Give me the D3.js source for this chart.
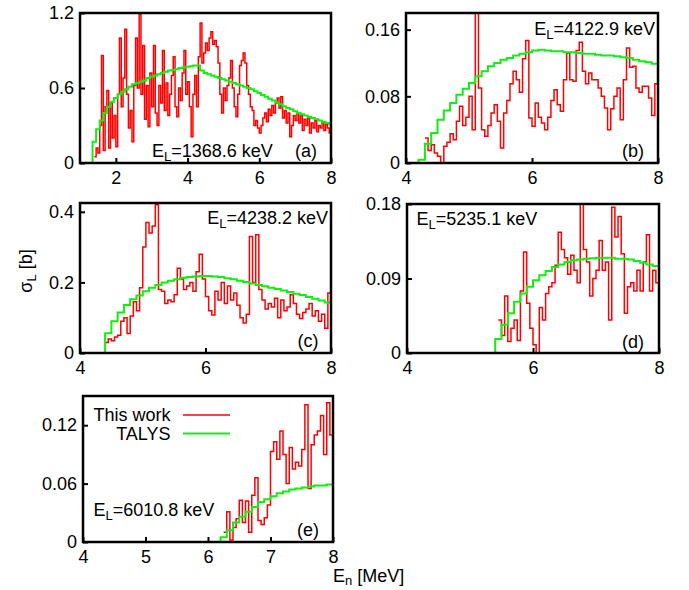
<!DOCTYPE html>
<html>
<head>
<meta charset="utf-8">
<script src="https://cdn.jsdelivr.net/npm/d3@7"></script>
<style>
  body { margin: 0; background: #fff; }
  text { font-family: "Liberation Sans", Arial, Helvetica, sans-serif; font-size: 18px; fill: #000; }
</style>
</head>
<body>
<script>
// Red = this work (0.05 MeV bins), green = TALYS (0.1 MeV bins)
const redBin = 0.05;
const greenBin = 0.1;

// (a) E_L = 1368.6 keV
const redStartA = 1.40;
const redA = [0.05,0.12,0.08,0.30,0.86,0.10,0.45,0.58,0.12,0.48,0.20,0.38,0.13,0.55,1.00,0.45,0.68,1.07,0.55,0.28,
  0.42,0.17,0.62,1.00,0.60,1.19,0.55,0.94,0.35,0.62,0.29,0.72,0.45,0.94,0.40,0.30,0.62,0.48,0.90,0.42,
  0.64,0.38,0.55,0.70,0.85,0.45,0.37,0.60,0.50,0.72,0.90,0.55,0.65,0.45,0.21,0.55,0.70,0.45,0.85,1.12,
  0.80,0.88,0.96,0.90,1.00,1.05,0.95,0.98,0.93,0.80,0.55,0.40,0.60,0.50,0.62,0.68,0.82,0.60,0.45,0.37,
  0.55,0.78,0.82,0.88,0.80,0.62,0.55,0.45,0.42,0.30,0.34,0.28,0.24,0.30,0.36,0.40,0.33,0.43,0.38,0.46,
  0.40,0.48,0.52,0.44,0.53,0.36,0.42,0.32,0.40,0.21,0.30,0.38,0.34,0.40,0.32,0.38,0.26,0.35,0.30,0.36,
  0.24,0.32,0.28,0.34,0.25,0.30,0.28,0.33,0.26,0.31,0.28,0.24];
const greenStartA = 1.35;
const greenA = [0.17,0.27,0.34,0.40,0.45,0.49,0.52,0.55,0.57,0.59,0.61,0.63,0.64,0.65,0.66,0.68,0.69,0.70,0.71,0.72,
  0.73,0.74,0.745,0.75,0.76,0.765,0.77,0.775,0.78,0.78,0.74,0.72,0.71,0.70,0.69,0.68,0.67,0.66,0.65,0.64,
  0.63,0.62,0.61,0.60,0.59,0.575,0.56,0.545,0.53,0.515,0.50,0.485,0.47,0.455,0.44,0.43,0.415,0.40,0.39,0.38,
  0.37,0.36,0.35,0.34,0.33,0.32,0.31];

// (b) E_L = 4122.9 keV
const redStartB = 4.30;
const redB = [0.030,0.015,0.022,0.012,0.008,0.000,0.020,0.025,0.035,0.028,0.050,0.068,0.045,0.055,0.080,0.040,0.180,0.090,0.040,0.032,
  0.045,0.060,0.070,0.050,0.018,0.060,0.075,0.095,0.110,0.100,0.085,0.125,0.147,0.054,0.044,0.072,0.055,0.048,0.040,0.055,
  0.075,0.088,0.070,0.062,0.100,0.132,0.100,0.098,0.135,0.145,0.110,0.095,0.108,0.100,0.100,0.090,0.080,0.066,0.040,0.065,
  0.080,0.090,0.052,0.100,0.138,0.115,0.116,0.090,0.085,0.092,0.092,0.078,0.057,0.095];
const greenStartB = 4.2;
const greenB = [0.004,0.023,0.036,0.052,0.063,0.072,0.082,0.089,0.096,0.104,0.110,0.116,0.120,0.124,0.126,0.129,0.131,0.133,0.135,0.136,
  0.135,0.134,0.134,0.133,0.133,0.132,0.131,0.131,0.130,0.129,0.129,0.128,0.127,0.126,0.124,0.122,0.121,0.119];

// (c) E_L = 4238.2 keV
const redStartC = 4.40;
const redC = [0.030,0.040,0.035,0.045,0.050,0.090,0.100,0.055,0.105,0.145,0.120,0.185,0.300,0.370,0.340,0.360,0.420,0.180,0.175,0.140,
  0.150,0.145,0.165,0.240,0.210,0.180,0.190,0.200,0.175,0.230,0.280,0.210,0.160,0.120,0.108,0.175,0.150,0.200,0.140,0.190,
  0.150,0.170,0.135,0.100,0.085,0.110,0.330,0.200,0.335,0.180,0.150,0.125,0.140,0.130,0.155,0.100,0.150,0.120,0.130,0.165,
  0.140,0.110,0.098,0.115,0.125,0.140,0.105,0.120,0.090,0.110,0.070,0.170];
const greenStartC = 4.4;
const greenC = [0.056,0.090,0.115,0.136,0.152,0.163,0.175,0.185,0.193,0.200,0.205,0.209,0.213,0.215,0.217,0.218,0.218,0.217,0.215,0.212,
  0.209,0.205,0.201,0.197,0.193,0.189,0.185,0.181,0.177,0.173,0.168,0.164,0.159,0.154,0.149,0.143];

// (d) E_L = 5235.1 keV
const redStartD = 5.45;
const redD = [0.040,0.021,0.069,0.014,0.030,0.040,0.015,0.075,0.122,0.060,0.030,0.010,0.000,0.055,0.040,0.072,0.080,0.085,0.106,0.146,
  0.125,0.115,0.095,0.118,0.100,0.085,0.180,0.125,0.110,0.069,0.090,0.100,0.136,0.100,0.110,0.040,0.176,0.140,0.165,0.120,
  0.048,0.080,0.085,0.075,0.100,0.075,0.110,0.143,0.075,0.100,0.085];
const greenStartD = 5.4;
const greenD = [0.017,0.034,0.048,0.062,0.072,0.080,0.088,0.094,0.099,0.104,0.107,0.110,0.112,0.113,0.114,0.1145,0.115,0.115,0.115,0.114,
  0.114,0.113,0.111,0.109,0.107,0.105];

// (e) E_L = 6010.8 keV
const redStartE = 6.25;
const redE = [0.010,0.031,0.002,0.015,0.024,0.043,0.020,0.042,0.010,0.048,0.066,0.022,0.018,0.025,0.038,0.093,0.103,0.085,0.114,0.090,
  0.060,0.097,0.075,0.082,0.078,0.095,0.141,0.055,0.100,0.110,0.114,0.130,0.090,0.143,0.110];
const greenStartE = 6.2;
const greenE = [0.005,0.012,0.020,0.026,0.031,0.036,0.041,0.044,0.047,0.050,0.052,0.054,0.055,0.056,0.057,0.058,0.058,0.059];

const levels = ["1368.6", "4122.9", "4238.2", "5235.1", "6010.8"];
const tags = ["(a)", "(b)", "(c)", "(d)", "(e)"];
const xTicksA = [2, 4, 6, 8];
const xTicksBCD = [4, 6, 8];
const xTicksE = [4, 5, 6, 7, 8];
const yTicksA = [0, 0.6, 1.2];
const yTicksB = [0, 0.08, 0.16];
const yTicksC = [0, 0.2, 0.4];
const yTicksD = [0, 0.09, 0.18];
const yTicksE = [0, 0.06, 0.12];

const W = 689, H = 590;
const svg = d3.select("body").append("svg")
  .attr("width", W).attr("height", H)
  .attr("xmlns", "http://www.w3.org/2000/svg");

// panel boxes [left, top, right, bottom], label placement
const panels = [
  { box: [80, 13, 331, 163], xd: [1, 8], yd: [0, 1.2], xt: xTicksA, yt: yTicksA,
    red: redA, rs: redStartA, green: greenA, gs: greenStartA,
    lab: { x: 152, y: 156.5, a: "start" }, tag: { x: 295, y: 156.5 } },
  { box: [406, 13, 658, 163], xd: [4, 8], yd: [0, 0.18], xt: xTicksBCD, yt: yTicksB,
    red: redB, rs: redStartB, green: greenB, gs: greenStartB,
    lab: { x: 655, y: 35, a: "end" }, tag: { x: 622, y: 156.5 } },
  { box: [80, 203, 331, 353], xd: [4, 8], yd: [0, 0.425], xt: xTicksBCD, yt: yTicksC,
    red: redC, rs: redStartC, green: greenC, gs: greenStartC,
    lab: { x: 328, y: 223.5, a: "end" }, tag: { x: 297.5, y: 346.5 } },
  { box: [407, 204, 659, 353], xd: [4, 8], yd: [0, 0.18], xt: xTicksBCD, yt: yTicksD,
    red: redD, rs: redStartD, green: greenD, gs: greenStartD,
    lab: { x: 416.5, y: 224.5, a: "start" }, tag: { x: 622, y: 348 } },
  { box: [83, 396, 333, 542], xd: [4, 8], yd: [0, 0.15], xt: xTicksE, yt: yTicksE,
    red: redE, rs: redStartE, green: greenE, gs: greenStartE,
    lab: { x: 93.5, y: 516, a: "start" }, tag: { x: 297, y: 535.5 } }
];

// turn bin values into step points (last bin closed at its upper edge)
function steps(vals, start, w, fromZero) {
  const pts = vals.map((v, i) => [start + i * w, v]);
  pts.push([start + vals.length * w, vals[vals.length - 1]]);
  if (fromZero) pts.unshift([start, 0]);
  return pts;
}

const defs = svg.append("defs");

panels.forEach(function(p, i) {
  const [l, t, r, b] = p.box;
  const x = d3.scaleLinear().domain(p.xd).range([l, r]);
  const y = d3.scaleLinear().domain(p.yd).range([b, t]);
  const g = svg.append("g");

  defs.append("clipPath").attr("id", "clip" + i)
    .append("rect").attr("x", l).attr("y", t).attr("width", r - l).attr("height", b - t);

  const line = d3.line().x(d => x(d[0])).y(d => y(d[1])).curve(d3.curveStepAfter);
  const data = g.append("g").attr("clip-path", "url(#clip" + i + ")");

  data.append("path")
    .datum(steps(p.red, p.rs, redBin, false))
    .attr("d", line)
    .attr("fill", "none").attr("stroke", "#ff0000").attr("stroke-width", 1.5);

  data.append("path")
    .datum(steps(p.green, p.gs, greenBin, true))
    .attr("d", line)
    .attr("fill", "none").attr("stroke", "#11ee11").attr("stroke-width", 2);

  // axes with inward ticks
  const xa = g.append("g").attr("transform", `translate(0,${b})`)
    .call(d3.axisBottom(x).tickValues(p.xt).tickFormat(d3.format("d")).tickSize(-5).tickPadding(8));
  const ya = g.append("g").attr("transform", `translate(${l},0)`)
    .call(d3.axisLeft(y).tickValues(p.yt).tickFormat(d => String(d)).tickSize(-5).tickPadding(6));
  [xa, ya].forEach(function(a) {
    a.select(".domain").remove();
    a.selectAll("line").attr("stroke", "#000").attr("stroke-width", 2);
    a.selectAll("text").attr("font-size", null).style("font-size", "18px")
      .style("font-family", '"Liberation Sans", Arial, sans-serif');
  });

  g.append("rect")
    .attr("x", l).attr("y", t).attr("width", r - l).attr("height", b - t)
    .attr("fill", "none").attr("stroke", "#000").attr("stroke-width", 2.5);

  const lab = g.append("text").attr("x", p.lab.x).attr("y", p.lab.y).attr("text-anchor", p.lab.a);
  lab.append("tspan").text("E");
  lab.append("tspan").attr("dy", 4).style("font-size", "13px").text("L");
  lab.append("tspan").attr("dy", -4).text("=" + levels[i] + " keV");

  g.append("text").attr("x", p.tag.x).attr("y", p.tag.y).text(tags[i]);
});

// legend in panel (e)
const legend = [["This work", "#ff0000", 1.5], ["TALYS", "#11ee11", 2]];
legend.forEach(function(d, k) {
  const yy = 415 + k * 18.5;
  svg.append("text").attr("x", 170.5).attr("y", yy + 6).attr("text-anchor", "end").text(d[0]);
  svg.append("line").attr("x1", 183).attr("x2", 230).attr("y1", yy).attr("y2", yy)
    .attr("stroke", d[1]).attr("stroke-width", d[2]);
});

// axis titles
const yl = svg.append("text").attr("transform", "translate(32,271) rotate(-90)").attr("text-anchor", "middle");
yl.append("tspan").text("σ");
yl.append("tspan").attr("dy", 4).style("font-size", "13px").text("L");
yl.append("tspan").attr("dy", -4).text(" [b]");

const xl = svg.append("text").attr("x", 333).attr("y", 582);
xl.append("tspan").text("E");
xl.append("tspan").attr("dy", 3).style("font-size", "13px").text("n");
xl.append("tspan").attr("dy", -3).text(" [MeV]");
</script>
</body>
</html>
